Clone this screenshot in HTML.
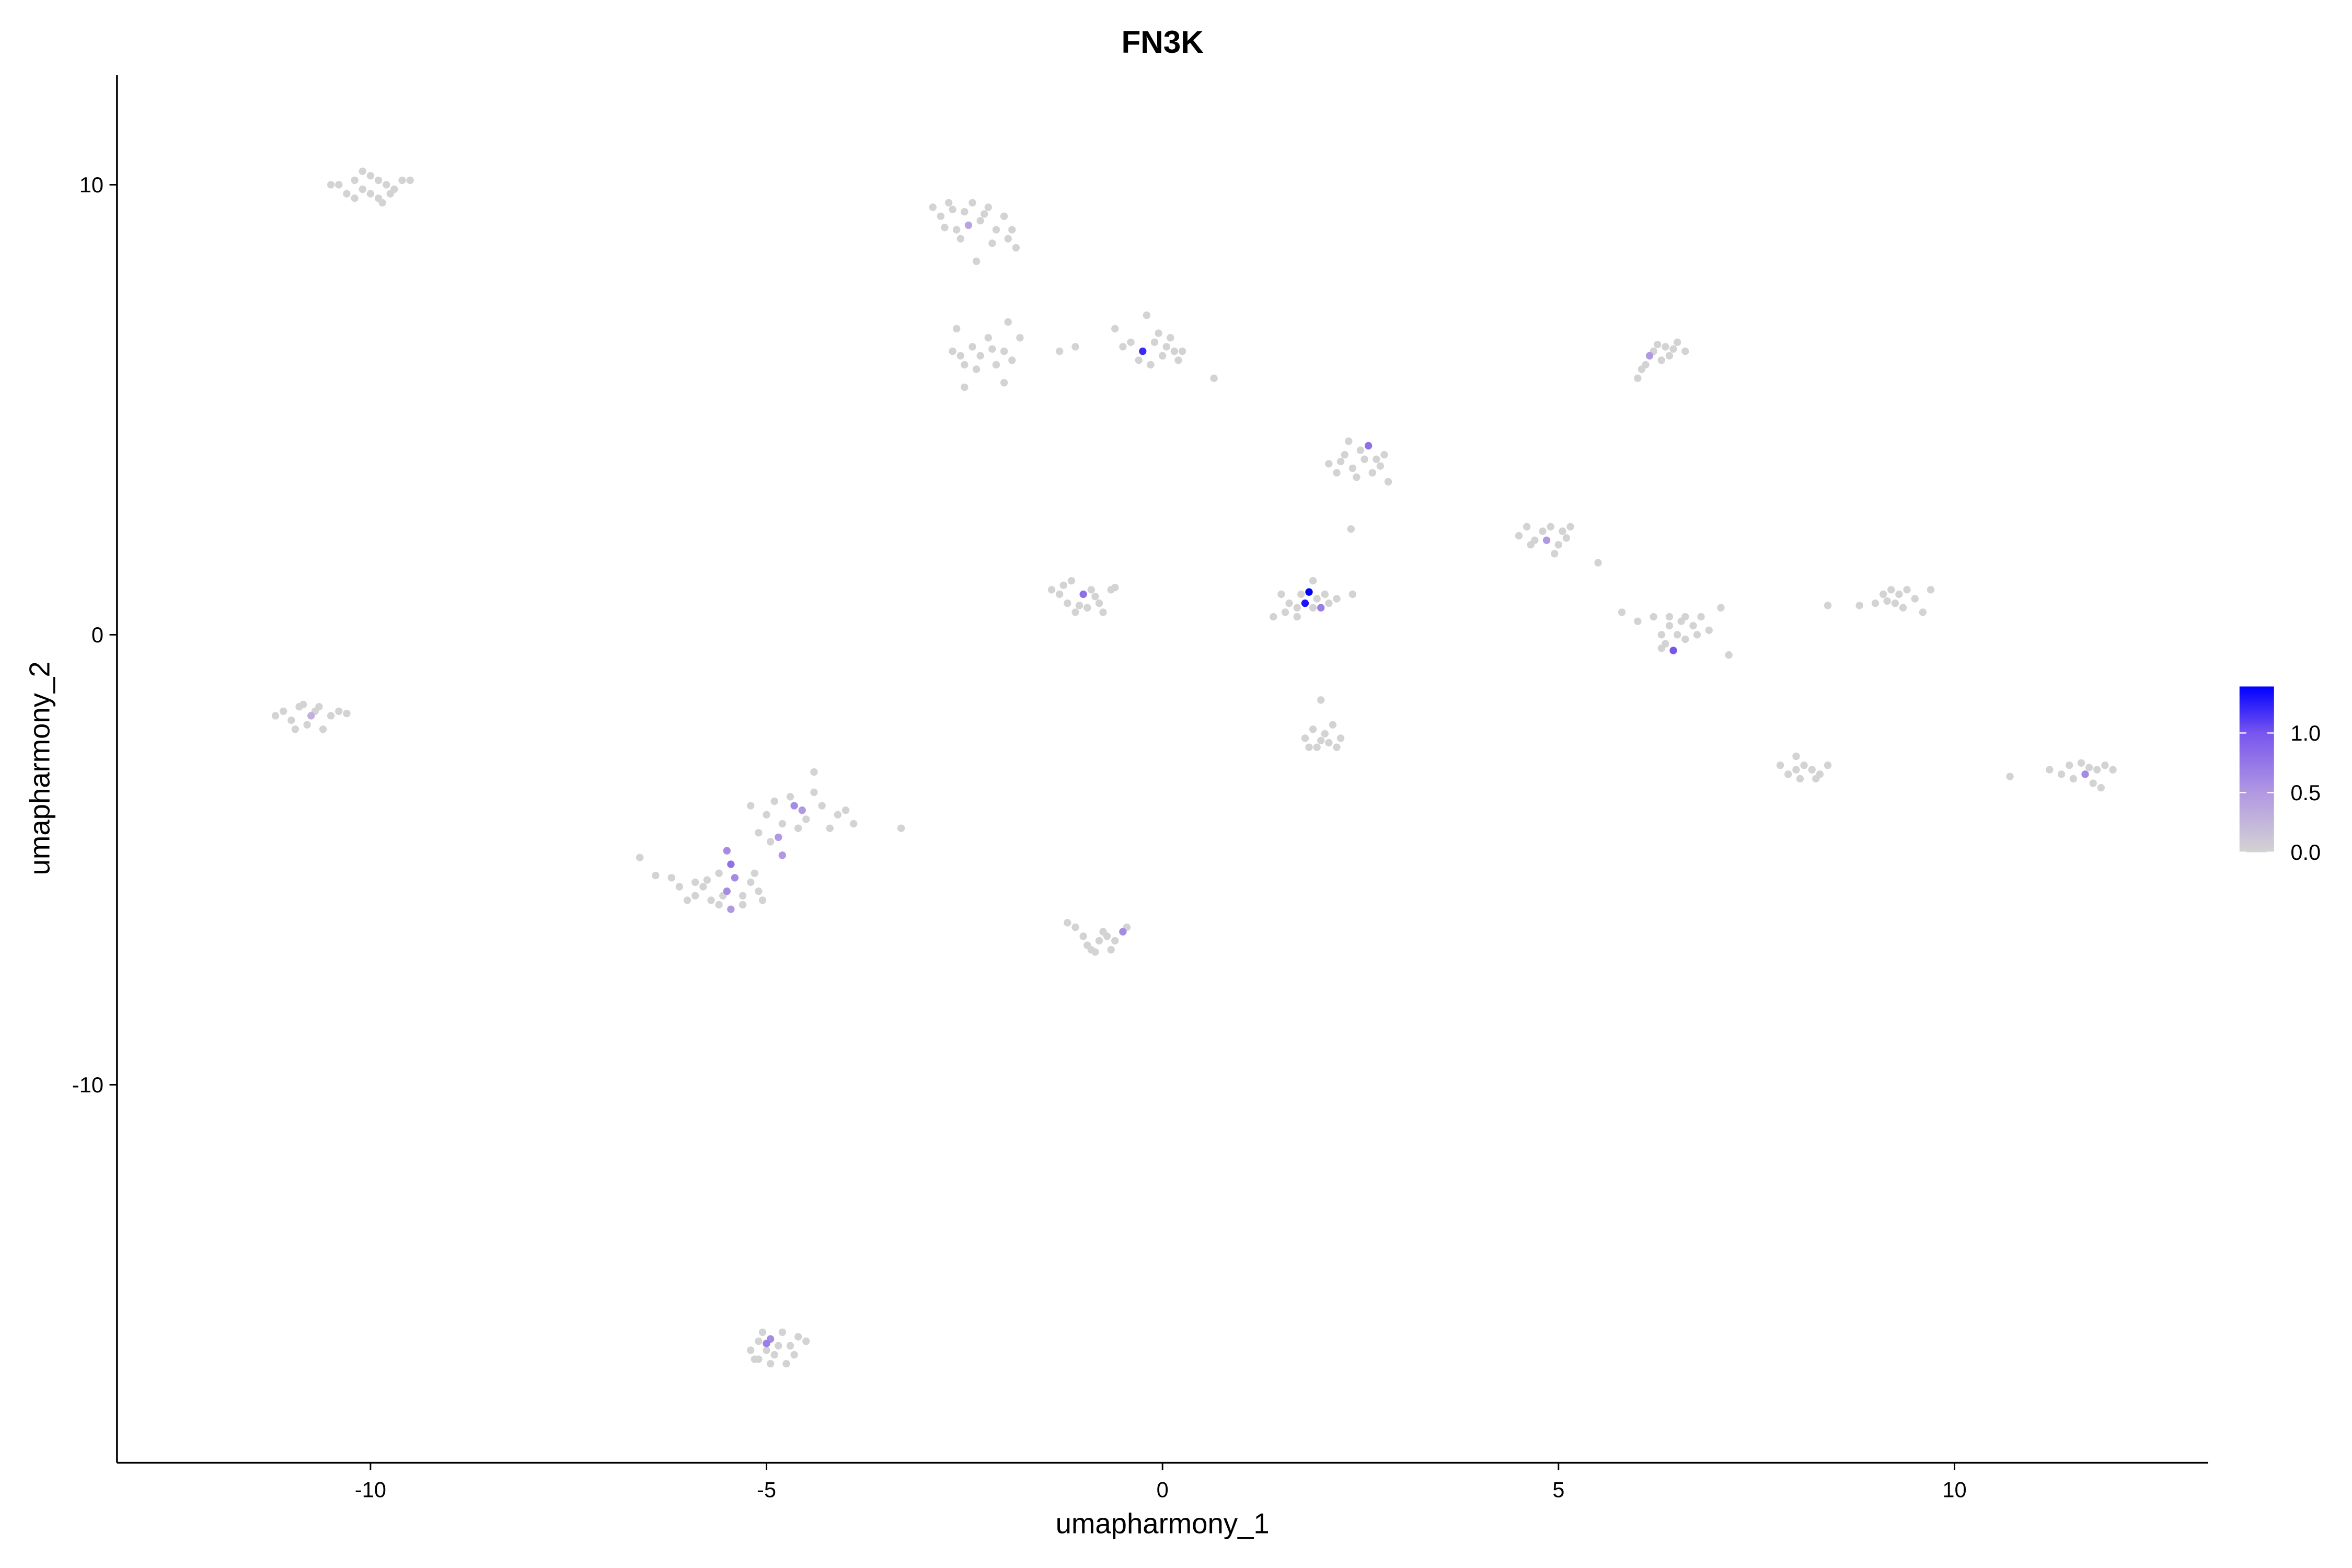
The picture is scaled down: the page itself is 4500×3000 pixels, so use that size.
<!DOCTYPE html>
<html><head><meta charset="utf-8"><style>
html,body{margin:0;padding:0;background:#fff;}
svg{display:block;font-family:"Liberation Sans",sans-serif;}
</style></head><body>
<svg id="chart" width="4500" height="3000" viewBox="0 0 1568 1045" xmlns="http://www.w3.org/2000/svg">
<defs><linearGradient id="cg" x1="0" y1="1" x2="0" y2="0">
<stop offset="0" stop-color="rgb(211,211,211)"/><stop offset="0.36" stop-color="rgb(178,152,226)"/><stop offset="0.72" stop-color="rgb(120,85,238)"/><stop offset="1" stop-color="rgb(0,0,255)"/></linearGradient></defs>
<rect width="1568" height="1045" fill="#fff"/>
<text x="775" y="35" text-anchor="middle" font-size="21" font-weight="bold">FN3K</text>
<g id="points"></g>
<line x1="78" y1="50" x2="78" y2="975" stroke="#000" stroke-width="1.2"/>
<line x1="78" y1="975" x2="1472" y2="975" stroke="#000" stroke-width="1.2"/>
<g id="xticks"></g>
<g id="yticks"></g>
<text x="775" y="1022" text-anchor="middle" font-size="19">umapharmony_1</text>
<text transform="translate(33,512) rotate(-90)" text-anchor="middle" font-size="19">umapharmony_2</text>
<g>
<rect x="1493" y="457.5" width="23" height="110.5" fill="url(#cg)"/>
<g id="cbticks"></g>
</g>
</svg>
<script>
const xTicks=[-10,-5,0,5,10];
const yTicks=[-10,0,10];
const cbTicks=[0,0.5,1.0];
const cbLabels=["0.0","0.5","1.0"];
const cells=[
[-10.4,10.0,0],[-10.3,9.8,0],[-10.2,10.1,0],[-10.1,9.9,0],[-10.0,10.2,0],[-9.9,9.7,0],[-9.8,10.0,0],[-10.0,9.8,0],[-9.7,9.9,0],[-9.6,10.1,0],[-9.5,10.1,0],[-10.2,9.7,0],[-9.9,10.1,0],[-10.1,10.3,0],[-9.85,9.6,0],[-10.5,10.0,0],[-9.75,9.8,0],
[-11.2,-1.8,0],[-11.1,-1.7,0],[-11.0,-1.9,0],[-10.9,-1.6,0],[-10.8,-2.0,0],[-10.7,-1.7,0],[-10.6,-2.1,0],[-10.5,-1.8,0],[-10.4,-1.7,0],[-10.95,-2.1,0],[-10.75,-1.8,0.3],[-10.3,-1.75,0],[-10.85,-1.55,0],[-10.65,-1.6,0],
[-2.9,9.5,0],[-2.8,9.3,0],[-2.7,9.6,0],[-2.6,9.0,0],[-2.5,9.4,0],[-2.45,9.1,0.4],[-2.4,9.6,0],[-2.3,9.2,0],[-2.2,9.5,0],[-2.1,9.0,0],[-2.0,9.3,0],[-1.95,8.8,0],[-1.85,8.6,0],[-2.55,8.8,0],[-2.35,8.3,0],[-2.15,8.7,0],[-2.75,9.05,0],[-2.25,9.35,0],[-1.9,9.0,0],[-2.65,9.45,0],
[-2.6,6.8,0],[-2.65,6.3,0],[-2.5,6.0,0],[-2.4,6.4,0],[-2.3,6.2,0],[-2.2,6.6,0],[-2.1,6.0,0],[-2.0,6.3,0],[-1.9,6.1,0],[-1.8,6.6,0],[-1.95,6.95,0],[-2.5,5.5,0],[-2.0,5.6,0],[-2.35,5.9,0],[-2.15,6.35,0],[-2.55,6.2,0],
[-1.3,6.3,0],[-1.1,6.4,0],[-0.6,6.8,0],[-0.5,6.4,0],[-0.4,6.5,0],[-0.25,6.3,1.2],[-0.2,7.1,0],[-0.15,6.0,0],[-0.1,6.5,0],[0,6.2,0],[0.05,6.4,0],[0.1,6.6,0],[0.15,6.3,0],[0.2,6.1,0],[0.25,6.3,0],[-0.3,6.1,0],[0.65,5.7,0],[-0.05,6.7,0],
[2.1,3.8,0],[2.2,3.6,0],[2.3,4.0,0],[2.35,4.3,0],[2.4,3.7,0],[2.5,4.1,0],[2.55,3.9,0],[2.6,4.2,0.8],[2.65,3.6,0],[2.7,3.9,0],[2.8,4.0,0],[2.85,3.4,0],[2.45,3.5,0],[2.25,3.85,0],[2.75,3.75,0],[2.38,2.35,0],
[6.1,6.0,0],[6.2,6.3,0],[6.15,6.2,0.5],[6.3,6.1,0],[6.35,6.4,0],[6.4,6.2,0],[6.5,6.5,0],[6.6,6.3,0],[6.05,5.9,0],[6.0,5.7,0],[6.25,6.45,0],[6.45,6.35,0],
[4.5,2.2,0],[4.6,2.4,0],[4.7,2.1,0],[4.8,2.3,0],[4.85,2.1,0.5],[4.9,2.4,0],[5.0,2.0,0],[5.05,2.3,0],[5.15,2.4,0],[4.95,1.8,0],[4.65,2.0,0],[5.1,2.15,0],[5.5,1.6,0],
[-1.4,1.0,0],[-1.3,0.9,0],[-1.2,0.7,0],[-1.15,1.2,0],[-1.1,0.5,0],[-1.0,0.9,0.8],[-0.95,0.6,0],[-0.9,1.0,0],[-0.8,0.7,0],[-0.75,0.5,0],[-0.65,1.0,0],[-0.6,1.05,0],[-1.25,1.1,0],[-1.05,0.65,0],[-0.85,0.85,0],
[1.4,0.4,0],[1.5,0.9,0],[1.55,0.5,0],[1.6,0.7,0],[1.7,0.6,0],[1.75,0.9,0],[1.8,0.7,1.3],[1.85,0.95,1.4],[1.9,0.6,0],[1.95,0.8,0],[2.0,0.6,0.7],[2.05,0.9,0],[2.1,0.7,0],[2.2,0.8,0],[2.4,0.9,0],[1.9,1.2,0],[1.7,0.4,0],
[5.8,0.5,0],[6.0,0.3,0],[6.2,0.4,0],[6.3,0.0,0],[6.35,-0.2,0],[6.4,0.2,0],[6.45,-0.35,1.0],[6.5,0.0,0],[6.55,0.3,0],[6.6,-0.1,0],[6.7,0.2,0],[6.8,0.4,0],[6.9,0.1,0],[7.05,0.6,0],[7.15,-0.45,0],[6.3,-0.3,0],[6.4,0.4,0],[6.6,0.4,0],[6.75,0.0,0],
[8.4,0.65,0],[8.8,0.65,0],[9.0,0.7,0],[9.1,0.9,0],[9.2,1.0,0],[9.25,0.7,0],[9.3,0.9,0],[9.4,1.0,0],[9.5,0.8,0],[9.6,0.5,0],[9.7,1.0,0],[9.35,0.6,0],[9.15,0.75,0],
[1.8,-2.3,0],[1.9,-2.1,0],[1.95,-2.5,0],[2.0,-1.45,0],[2.05,-2.2,0],[2.1,-2.4,0],[2.15,-2.0,0],[2.25,-2.3,0],[1.85,-2.5,0],[2.2,-2.5,0],[2.0,-2.35,0],
[7.8,-2.9,0],[7.9,-3.1,0],[8.0,-2.7,0],[8.05,-3.2,0],[8.1,-2.9,0],[8.2,-3.0,0],[8.3,-3.1,0],[8.4,-2.9,0],[8.0,-3.0,0],[8.25,-3.2,0],
[10.7,-3.15,0],[11.2,-3.0,0],[11.35,-3.1,0],[11.45,-2.9,0],[11.5,-3.2,0],[11.6,-2.85,0],[11.65,-3.1,0.6],[11.75,-3.3,0],[11.8,-3.0,0],[11.9,-2.9,0],[12.0,-3.0,0],[11.7,-2.95,0],[11.85,-3.4,0],
[-5.2,-3.8,0],[-5.0,-4.0,0],[-4.9,-3.7,0],[-4.8,-4.2,0],[-4.7,-3.6,0],[-4.65,-3.8,0.6],[-4.55,-3.9,0.5],[-4.5,-4.1,0],[-4.4,-3.5,0],[-4.4,-3.05,0],[-4.3,-3.8,0],[-4.2,-4.3,0],[-4.1,-4.0,0],[-4.0,-3.9,0],[-3.9,-4.2,0],[-3.3,-4.3,0],[-4.85,-4.5,0.5],[-4.8,-4.9,0.5],[-4.95,-4.6,0],[-5.1,-4.4,0],[-4.6,-4.3,0],
[-6.6,-4.95,0],[-6.4,-5.35,0],[-6.2,-5.4,0],[-6.1,-5.6,0],[-6.0,-5.9,0],[-5.9,-5.5,0],[-5.8,-5.6,0],[-5.75,-5.45,0],[-5.7,-5.9,0],[-5.6,-6.0,0],[-5.55,-5.8,0],[-5.5,-4.8,0.6],[-5.45,-5.1,0.8],[-5.5,-5.7,0.6],[-5.45,-6.1,0.5],[-5.4,-5.4,0.6],[-5.3,-5.8,0],[-5.2,-5.5,0],[-5.1,-5.7,0],[-5.05,-5.9,0],[-5.3,-6.0,0],[-5.6,-5.3,0],[-5.9,-5.8,0],[-5.15,-5.3,0],
[-1.2,-6.4,0],[-1.1,-6.5,0],[-1.0,-6.7,0],[-0.95,-6.9,0],[-0.9,-7.0,0],[-0.8,-6.8,0],[-0.7,-6.7,0],[-0.65,-7.0,0],[-0.6,-6.8,0],[-0.5,-6.6,0.6],[-0.45,-6.5,0],[-0.75,-6.6,0],[-0.85,-7.05,0],
[-5.2,-15.9,0],[-5.15,-16.1,0],[-5.1,-15.7,0],[-5.05,-15.5,0],[-5.0,-15.75,0.7],[-4.95,-15.65,0.6],[-4.9,-16.0,0],[-4.85,-15.8,0],[-4.8,-15.5,0],[-4.75,-16.2,0],[-4.7,-15.8,0],[-4.6,-15.6,0],[-4.5,-15.7,0],[-4.65,-16.0,0],[-5.1,-16.1,0],[-4.95,-16.2,0],[-5.0,-15.9,0]
];
const NS="http://www.w3.org/2000/svg";
const sx=v=>775+v*52.8;
const sy=v=>423-v*30;
const cmax=1.39;
const cy=v=>568-v*(110.5/cmax);
const stops=[[0,[211,211,211]],[0.36,[178,152,226]],[0.72,[120,85,238]],[1,[0,0,255]]];
function col(e){const t=Math.min(1,e/cmax);
for(let i=1;i<stops.length;i++){if(t<=stops[i][0]){const a=stops[i-1],b=stops[i];const f=(t-a[0])/(b[0]-a[0]);
const c=a[1].map((v,k)=>Math.round(v+(b[1][k]-v)*f));return `rgb(${c[0]},${c[1]},${c[2]})`;}}
return 'rgb(0,0,255)';}
const pg=document.getElementById('points');
cells.slice().sort((a,b)=>a[2]-b[2]).forEach(c=>{
const el=document.createElementNS(NS,'circle');


el.setAttribute('cx',sx(c[0]));el.setAttribute('cy',sy(c[1]));el.setAttribute('r',2.5);
el.setAttribute('fill',col(c[2]));pg.appendChild(el);});
const xg=document.getElementById('xticks');
xTicks.forEach(v=>{
const l=document.createElementNS(NS,'line');


l.setAttribute('x1',sx(v));l.setAttribute('x2',sx(v));l.setAttribute('y1',975);l.setAttribute('y2',980);l.setAttribute('stroke','#000');xg.appendChild(l);
const t=document.createElementNS(NS,'text');


t.setAttribute('x',sx(v));t.setAttribute('y',998);t.setAttribute('text-anchor','middle');t.setAttribute('font-size','14.5');t.textContent=v;xg.appendChild(t);});
const yg=document.getElementById('yticks');
yTicks.forEach(v=>{
const l=document.createElementNS(NS,'line');


l.setAttribute('x1',73);l.setAttribute('x2',78);l.setAttribute('y1',sy(v));l.setAttribute('y2',sy(v));l.setAttribute('stroke','#000');yg.appendChild(l);
const t=document.createElementNS(NS,'text');


t.setAttribute('x',69);t.setAttribute('y',sy(v)+5);t.setAttribute('text-anchor','end');t.setAttribute('font-size','14.5');t.textContent=v;yg.appendChild(t);});
const cg=document.getElementById('cbticks');
cbTicks.forEach((v,i)=>{
[[1493,1497.5],[1511.5,1516]].forEach(p=>{
const l=document.createElementNS(NS,'line');


l.setAttribute('x1',p[0]);l.setAttribute('x2',p[1]);l.setAttribute('y1',cy(v));l.setAttribute('y2',cy(v));l.setAttribute('stroke','#fff');l.setAttribute('stroke-width','0.8');cg.appendChild(l);});
const t=document.createElementNS(NS,'text');


t.setAttribute('x',1527);t.setAttribute('y',cy(v)+5);t.setAttribute('font-size','14.5');t.textContent=cbLabels[i];cg.appendChild(t);});
</script>
</body></html>
